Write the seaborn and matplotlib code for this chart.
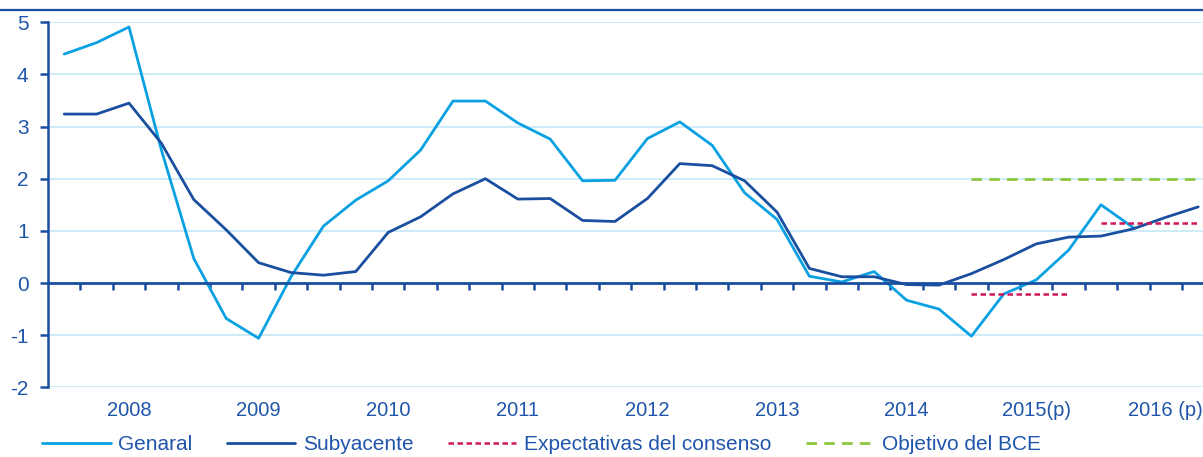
import numpy as np
import pandas as pd
import matplotlib
matplotlib.use("Agg")
import matplotlib.pyplot as plt
from matplotlib.lines import Line2D
import seaborn as sns

# quarterly series, 2008Q1 .. 2016Q4
year_labels = ["2008", "2009", "2010", "2011", "2012", "2013", "2014", "2015(p)", "2016 (p)"]
genaral = [4.39, 4.61, 4.91, 2.55, 0.47, -0.68, -1.06, 0.12, 1.09, 1.59,
           1.96, 2.55, 3.49, 3.49, 3.07, 2.76, 1.96, 1.97, 2.77, 3.09,
           2.64, 1.73, 1.22, 0.13, 0.02, 0.22, -0.33, -0.50, -1.02, -0.21,
           0.06, 0.63, 1.50, 1.06]
subyacente = [3.24, 3.24, 3.45, 2.68, 1.60, 1.02, 0.39, 0.20, 0.15, 0.22,
              0.97, 1.27, 1.71, 2.00, 1.61, 1.62, 1.20, 1.18, 1.62, 2.29,
              2.25, 1.96, 1.36, 0.28, 0.12, 0.12, -0.03, -0.04, 0.18, 0.45,
              0.75, 0.88, 0.90, 1.04, 1.26, 1.46]
consenso_2015 = [-0.21, -0.21, -0.21, -0.21]   # 2015 Q1-Q4
consenso_2016 = [1.15, 1.15, 1.15, 1.15]       # 2016 Q1-Q4
objetivo_bce = [2.0] * 8                      # 2015 Q1 - 2016 Q4

light_blue = "#0aa1e2"
dark_blue = "#1a4f9f"
crimson = "#d0145c"
green = "#8dc63f"
text_col = "#1f55aa"
grid_col = "#c6e8f8"

sns.set_theme(style="white")
plt.rcParams["font.family"] = ["Liberation Sans", "DejaVu Sans"]
plt.rcParams["axes.unicode_minus"] = False

df = pd.DataFrame({
    "q": list(range(len(genaral))) + list(range(len(subyacente))),
    "valor": genaral + subyacente,
    "serie": ["Genaral"] * len(genaral) + ["Subyacente"] * len(subyacente),
})

fig = plt.figure(figsize=(12.03, 4.57), dpi=100)
ax = fig.add_axes([48 / 1203, 69.7 / 457, 1166.4 / 1203, 365 / 457])

sns.lineplot(data=df, x="q", y="valor", hue="serie",
             palette={"Genaral": light_blue, "Subyacente": dark_blue},
             lw=2.0, legend=False, ax=ax, zorder=3)

q15 = np.arange(28, 32)
q16 = np.arange(32, 36)
sns.lineplot(x=np.arange(28, 36), y=objetivo_bce, color=green, lw=2.0,
             linestyle=(0, (3.8, 2.6)), ax=ax, zorder=2)
sns.lineplot(x=q15, y=consenso_2015, color=crimson, lw=1.8,
             linestyle=(0, (2.2, 1.4)), ax=ax, zorder=4)
sns.lineplot(x=q16, y=consenso_2016, color=crimson, lw=1.8,
             linestyle=(0, (2.2, 1.4)), ax=ax, zorder=4)

ax.set_xlim(-0.5, 35.5)
ax.set_ylim(-2, 5)
ax.set_xlabel("")
ax.set_ylabel("")

# axes styling
for s in ["top", "right"]:
    ax.spines[s].set_visible(False)
ax.spines["left"].set_color(dark_blue)
ax.spines["left"].set_linewidth(1.8)
ax.spines["bottom"].set_position(("data", 0))
ax.spines["bottom"].set_color(dark_blue)
ax.spines["bottom"].set_linewidth(2.0)
ax.spines["bottom"].set_zorder(5)

ax.set_yticks(range(-2, 6))
ax.tick_params(axis="y", left=True, length=6, width=1.8, color=dark_blue,
               pad=8, labelsize=15, labelcolor=text_col)
ax.set_xticks(np.arange(0.5, 35.5, 1))
ax.tick_params(axis="x", bottom=True, length=5, width=1.8, color=dark_blue,
               labelbottom=False)
ax.grid(axis="y", color=grid_col, lw=1.2)
ax.grid(axis="x", visible=False)

sec = ax.secondary_xaxis("bottom")
sec.set_xticks(np.arange(2, 36, 4), year_labels)
sec.tick_params(length=0, pad=10, labelsize=14.5, labelcolor=text_col)
sec.spines["bottom"].set_visible(False)

# top rule
fig.add_artist(Line2D([0, 1], [1 - 10 / 457] * 2, transform=fig.transFigure,
                      color=dark_blue, lw=1.6))

handles = [
    Line2D([], [], color=light_blue, lw=2.0),
    Line2D([], [], color=dark_blue, lw=2.0),
    Line2D([], [], color=crimson, lw=1.8, linestyle=(0, (2.2, 1.4))),
    Line2D([], [], color=green, lw=2.0, linestyle=(0, (3.8, 2.6))),
]
labels = ["Genaral", "Subyacente", "Expectativas del consenso", "Objetivo del BCE"]
fig.legend(handles, labels, loc="center left", bbox_to_anchor=(42 / 1203, 1 - 445 / 457),
           bbox_transform=fig.transFigure, ncol=4, frameon=False, fontsize=15,
           handlelength=3.3, handletextpad=0.35, columnspacing=1.65,
           borderpad=0, borderaxespad=0, labelcolor=text_col)

fig.savefig("out.png", dpi=100)
